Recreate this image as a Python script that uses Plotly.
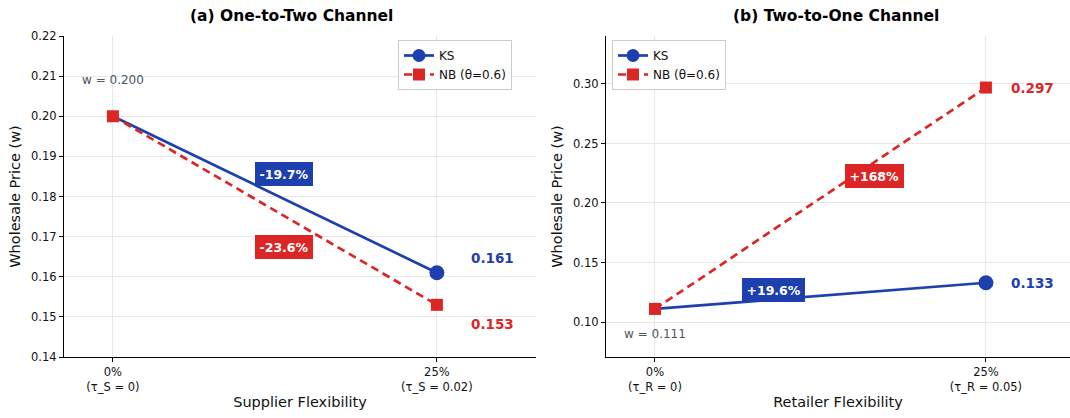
import plotly.graph_objects as go

# ---------------- data ----------------
x_pos = [0, 1]
ticks_a = ["0%<br>(τ_S = 0)", "25%<br>(τ_S = 0.02)"]
ticks_b = ["0%<br>(τ_R = 0)", "25%<br>(τ_R = 0.05)"]
ks_a = [0.200, 0.161]
nb_a = [0.200, 0.153]
ks_b = [0.111, 0.133]
nb_b = [0.111, 0.297]
chg_a = ["-19.7%", "-23.6%"]   # KS, NB
chg_b = ["+19.6%", "+168%"]    # KS, NB
series_names = ["KS", "NB (θ=0.6)"]
titles = ["(a) One-to-Two Channel", "(b) Two-to-One Channel"]
xtitles = ["Supplier Flexibility", "Retailer Flexibility"]
ytitle = "Wholesale Price (w)"

BLUE = "#1E40AF"
RED = "#DC2626"
GREY = "#4B5563"
FONT = "DejaVu Sans"
W, H = 1070, 418

fig = go.Figure()

def add_series(xa, ya, ks, nb, legend, show):
    fig.add_trace(go.Scatter(
        x=x_pos, y=ks, xaxis=xa, yaxis=ya, name=series_names[0], mode="lines+markers",
        line=dict(color=BLUE, width=2.7),
        marker=dict(symbol="circle", size=[11, 15], color=BLUE, opacity=1,
                    line=dict(width=0)),
        legend=legend, showlegend=show))
    fig.add_trace(go.Scatter(
        x=x_pos, y=nb, xaxis=xa, yaxis=ya, name=series_names[1], mode="lines+markers",
        line=dict(color=RED, width=2.7, dash="8px,5px"),
        marker=dict(symbol="square", size=12, color=RED, opacity=1, line=dict(width=0)),
        legend=legend, showlegend=show))

add_series("x", "y", ks_a, nb_a, "legend", True)
add_series("x2", "y2", ks_b, nb_b, "legend2", True)

ydom = [1 - 357 / H, 1 - 36 / H]
axis_common = dict(
    showline=True, linecolor="black", linewidth=1.1, mirror=False,
    ticks="outside", ticklen=4, tickcolor="black", tickwidth=1,
    showgrid=True, gridcolor="#e8e8e8", gridwidth=1, zeroline=False,
    tickfont=dict(family=FONT, size=11.5, color="#111111"),
    automargin=False,
)

legend_common = dict(bgcolor="white", bordercolor="#cccccc", borderwidth=1,
                     font=dict(family=FONT, size=12, color="#111111"), itemwidth=30,
                     tracegroupgap=0)

fig.update_layout(
    width=W, height=H,
    margin=dict(l=0, r=0, t=0, b=0),
    paper_bgcolor="white", plot_bgcolor="white",
    font=dict(family=FONT, color="#111111"),
    xaxis=dict(domain=[64 / W, 536 / W], range=[-0.151, 1.306],
               tickvals=x_pos, ticktext=ticks_a,
               title=dict(text=xtitles[0], font=dict(size=14.5, family=FONT), standoff=4),
               **axis_common),
    yaxis=dict(domain=ydom, range=[0.14, 0.22], dtick=0.01, tick0=0, tickformat=".2f",
               title=dict(text=ytitle, font=dict(size=14.5, family=FONT), standoff=6),
               **axis_common),
    xaxis2=dict(domain=[606 / W, 1.0], range=[-0.148, 1.254],
                tickvals=x_pos, ticktext=ticks_b, anchor="y2",
                title=dict(text=xtitles[1], font=dict(size=14.5, family=FONT), standoff=4),
                **axis_common),
    yaxis2=dict(domain=ydom, range=[0.0706, 0.3403], dtick=0.05, tick0=0, tickformat=".2f",
                anchor="x2",
                title=dict(text=ytitle, font=dict(size=14.5, family=FONT), standoff=6),
                **axis_common),
    legend=dict(x=512 / W, y=1 - 40 / H, xanchor="right", yanchor="top", **legend_common),
    legend2=dict(x=612 / W, y=1 - 40 / H, xanchor="left", yanchor="top", **legend_common),
    showlegend=True,
)

ann = []
# titles
for t, cx in zip(titles, [291, 836]):
    ann.append(dict(text="<b>%s</b>" % t, xref="paper", yref="paper", x=cx / W, y=1 - 16 / H,
                    xanchor="center", yanchor="middle", showarrow=False,
                    font=dict(family=FONT, size=15.5, color="black")))

# baseline notes
ann.append(dict(text="w = %.3f" % ks_a[0], xref="x", yref="y", x=0, y=0.2091, showarrow=False,
                font=dict(family=FONT, size=12, color=GREY)))
ann.append(dict(text="w = %.3f" % ks_b[0], xref="x2", yref="y2", x=0, y=0.0899, showarrow=False,
                font=dict(family=FONT, size=12, color=GREY)))

# change boxes
def box(text, xr, yr, x, y, color):
    return dict(text="<b>%s</b>" % text, xref=xr, yref=yr, x=x, y=y, showarrow=False,
                bgcolor=color, bordercolor=color, borderpad=3.5,
                font=dict(family=FONT, size=12.5, color="white"))

ann.append(box(chg_a[0], "x", "y", 0.528, 0.1855, BLUE))
ann.append(box(chg_a[1], "x", "y", 0.528, 0.1673, RED))
ann.append(box(chg_b[0], "x2", "y2", 0.357, 0.1269, BLUE))
ann.append(box(chg_b[1], "x2", "y2", 0.662, 0.2227, RED))

# end value labels
def val(v, xr, yr, x, yshift, color):
    return dict(text="<b>%.3f</b>" % v, xref=xr, yref=yr, x=x, y=v, yshift=yshift,
                xanchor="left", yanchor="middle", showarrow=False,
                font=dict(family=FONT, size=13.5, color=color))

ann.append(val(ks_a[1], "x", "y", 1.099, 15, BLUE))
ann.append(val(nb_a[1], "x", "y", 1.099, -19, RED))
ann.append(val(nb_b[1], "x2", "y2", 1.07, 0, RED))
ann.append(val(ks_b[1], "x2", "y2", 1.07, 0, BLUE))

fig.update_layout(annotations=ann)
fig.write_html("out.html")
